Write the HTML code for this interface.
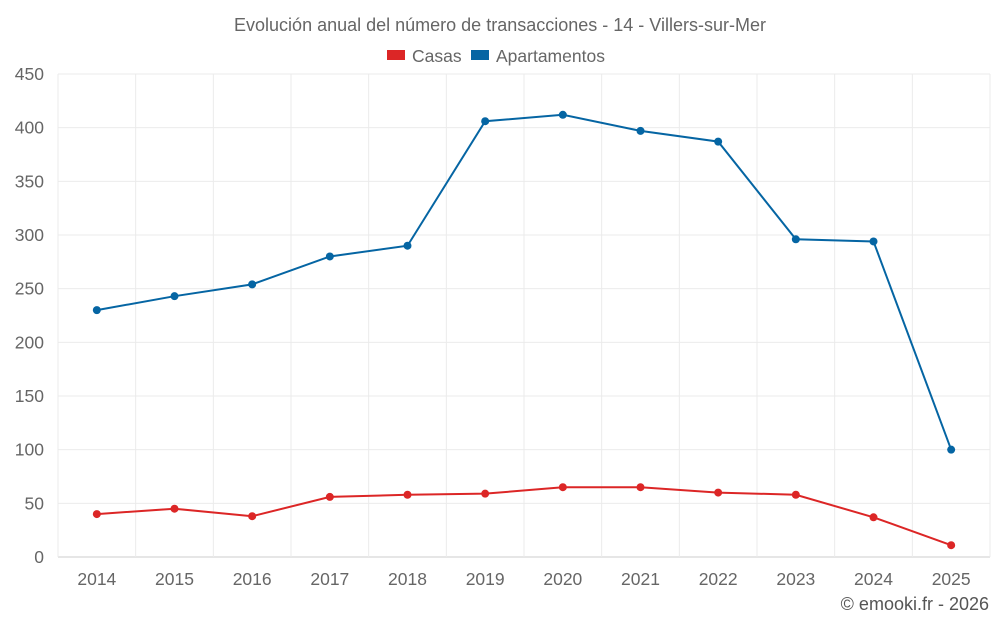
<!DOCTYPE html>
<html><head><meta charset="utf-8"><style>
body{margin:0;background:#fff;font-family:"Liberation Sans",sans-serif;}
svg text{font-family:"Liberation Sans",sans-serif;}
</style></head><body>
<svg id="chart" width="1000" height="625">
<text x="500" y="31" text-anchor="middle" font-size="18" fill="#666">Evolución anual del número de transacciones - 14 - Villers-sur-Mer</text>
<g><rect x="387" y="50" width="18" height="10" fill="#dc2626"/><text x="412" y="62" font-size="17.5" fill="#666">Casas</text></g>
<g><rect x="471" y="50" width="18" height="10" fill="#0565a3"/><text x="496" y="62" font-size="17.5" fill="#666">Apartamentos</text></g>
<g id="grid"></g><g id="axes"></g><g id="series"></g>
<text x="989" y="610" text-anchor="end" font-size="18" fill="#555">© emooki.fr - 2026</text>
</svg>
<script>
const categories=["2014","2015","2016","2017","2018","2019","2020","2021","2022","2023","2024","2025"];
const casas=[40,45,38,56,58,59,65,65,60,58,37,11];
const apartamentos=[230,243,254,280,290,406,412,397,387,296,294,100];
const yTicks=[0,50,100,150,200,250,300,350,400,450];
const NS="http://www.w3.org/2000/svg";
const L=58,R=990,T=74,B=557,yMax=450;
const bw=(R-L)/categories.length;
const x=i=>L+bw*(i+0.5);
const y=v=>B-(v/yMax)*(B-T);
function mk(tag,a,p){const e=document.createElementNS(NS,tag);for(const k in a)e.setAttribute(k,a[k]);p.appendChild(e);return e;}
const grid=document.getElementById('grid'),axes=document.getElementById('axes'),ser=document.getElementById('series');
yTicks.forEach(t=>{
 const ln=mk('line',{x1:L,x2:R,y1:y(t),y2:y(t),stroke:t===0?'#ccc':'#ebebeb','stroke-width':1},grid);
 
 
 const tx=mk('text',{x:L-14,y:y(t)+6,'text-anchor':'end','font-size':17.5,fill:'#666'},axes);
 tx.textContent=t;
 
 
});
for(let i=0;i<=categories.length;i++){
 const ln=mk('line',{x1:L+bw*i,x2:L+bw*i,y1:T,y2:B,stroke:'#ebebeb'},grid);
 
 
}
categories.forEach((c,i)=>{
 const tx=mk('text',{x:x(i),y:585,'text-anchor':'middle','font-size':17.5,fill:'#666'},axes);
 tx.textContent=c;
 
 
});
function draw(vals,color,name){
 const p=mk('polyline',{points:vals.map((v,i)=>x(i)+','+y(v)).join(' '),fill:'none',stroke:color,'stroke-width':2},ser);
 
 
 vals.forEach((v,i)=>{
  const c=mk('circle',{cx:x(i),cy:y(v),r:4,fill:color},ser);
  
  
 });
}
draw(apartamentos,'#0565a3','apartamentos');
draw(casas,'#dc2626','casas');
</script>
</body></html>
